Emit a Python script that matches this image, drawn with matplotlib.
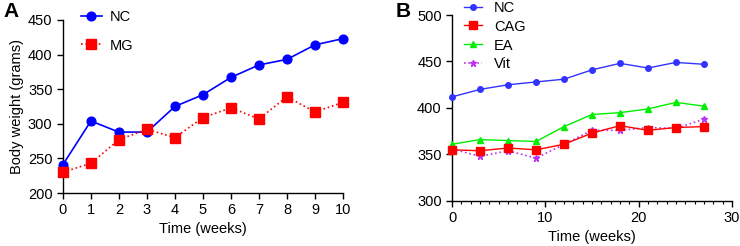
import matplotlib
matplotlib.use("Agg")
import matplotlib.pyplot as plt
import numpy as np

plt.rcParams['font.family'] = ['Liberation Sans', 'DejaVu Sans']

# Panel A data
weeks_a = [0, 1, 2, 3, 4, 5, 6, 7, 8, 9, 10]
nc_a = [241, 304, 288, 288, 325, 342, 367, 385, 393, 414, 423]
mg_a = [230, 243, 277, 292, 280, 309, 323, 307, 339, 317, 331]

# Panel B data
weeks_b = [0, 3, 6, 9, 12, 15, 18, 21, 24, 27]
nc_b = [412, 420, 425, 428, 431, 441, 448, 443, 449, 447]
cag_b = [355, 354, 357, 355, 361, 373, 381, 376, 379, 380]
ea_b = [361, 366, 365, 364, 380, 393, 395, 399, 406, 402]
vit_b = [356, 348, 354, 346, 361, 376, 376, 379, 378, 388]

fig = plt.figure(figsize=(7.4, 2.46), dpi=100)
axA = fig.add_axes([0.085, 0.2154, 0.3785, 0.7036])
axB = fig.add_axes([0.611, 0.183, 0.378, 0.756])

fs = 10.5
for ax in (axA, axB):
    ax.spines['top'].set_visible(False)
    ax.spines['right'].set_visible(False)
    ax.tick_params(labelsize=fs, width=1, length=4)
    for s in ('left', 'bottom'):
        ax.spines[s].set_linewidth(1)

# Panel A
axA.plot(weeks_a, nc_a, '-o', color='#0000FF', lw=1.2, ms=6.3, label='NC', clip_on=False, zorder=3)
axA.plot(weeks_a, mg_a, ':s', color='#FF0000', lw=1.2, ms=7.5, label='MG', clip_on=False, zorder=3)
axA.set_xlim(0, 10)
axA.set_ylim(200, 450)
axA.set_xticks(range(0, 11))
axA.set_yticks([200, 250, 300, 350, 400, 450])
axA.set_xlabel('Time (weeks)', fontsize=fs, labelpad=3)
axA.set_ylabel('Body weight (grams)', fontsize=fs, labelpad=3)
axA.legend(loc='upper left', bbox_to_anchor=(0.016, 1.135), frameon=False, fontsize=fs,
           handlelength=1.45, labelspacing=1.02, handletextpad=0.55)

# Panel B
axB.plot(weeks_b, nc_b, '-o', color='#3333FF', lw=1.0, ms=4, label='NC', clip_on=False, zorder=3)
axB.plot(weeks_b, cag_b, '-s', color='#FF0000', lw=1.0, ms=5.8, label='CAG', clip_on=False, zorder=4)
axB.plot(weeks_b, ea_b, '-^', color='#00EE00', lw=1.0, ms=4, label='EA', clip_on=False, zorder=3)
axB.plot(weeks_b, vit_b, ':*', color='#BB33EE', lw=1.2, ms=5, label='Vit', clip_on=False, zorder=3)
axB.set_xlim(0, 30)
axB.set_ylim(300, 500)
axB.set_xticks([0, 10, 20, 30])
axB.set_xticks(np.arange(0, 31, 1), minor=True)
axB.tick_params(which='minor', length=2.5, width=0.8)
axB.set_yticks([300, 350, 400, 450, 500])
axB.set_xlabel('Time (weeks)', fontsize=fs, labelpad=3)
axB.legend(loc='upper left', bbox_to_anchor=(-0.005, 1.148), frameon=False, fontsize=fs,
           handlelength=1.23, labelspacing=0.34, handletextpad=0.82)

fig.text(0.005, 0.99, 'A', fontsize=15, fontweight='bold', va='top', ha='left')
fig.text(0.535, 0.99, 'B', fontsize=15, fontweight='bold', va='top', ha='left')

fig.savefig('out.png', dpi=100)
